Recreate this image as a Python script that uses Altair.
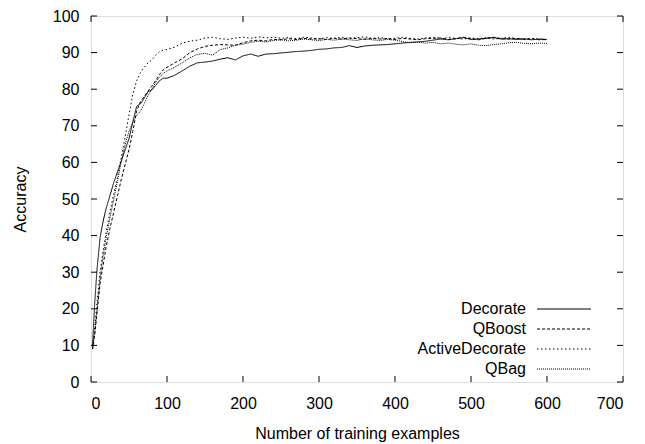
import altair as alt
import pandas as pd

# ---- data ----
series_names = ["Decorate", "QBoost", "ActiveDecorate", "QBag"]

x_vals = [2, 5, 8, 12, 16, 20, 25, 30, 35, 40, 45, 50, 55, 60, 65, 70, 75, 80, 85, 90, 95,
          100, 110, 120, 130, 140, 150, 160, 170, 180, 190, 200, 210, 220, 230, 240, 250,
          260, 270, 280, 290, 300, 310, 320, 330, 340, 350, 360, 370, 380, 390, 400, 410,
          420, 430, 440, 450, 460, 470, 480, 490, 500, 510, 520, 530, 540, 550, 560, 570,
          580, 590, 600]

decorate = [10, 22, 31, 39.5, 44, 47.5, 51, 54.5, 57.5, 60.5, 63.5, 66.5, 71, 75.3, 76, 77.5,
            79.3, 79.8, 81, 82.3, 83,
            83.0, 83.8, 85.0, 86.3, 87.2, 87.4, 87.7, 88.2, 88.6, 88.0, 89.1, 89.6, 89.0, 89.6,
            89.7, 89.9, 90.1, 90.3, 90.4, 90.6, 90.9, 91.0, 91.3, 91.4, 91.9, 91.4, 91.8, 92.0,
            92.1, 92.2, 92.4, 92.6, 92.8, 92.9, 93.1, 93.4, 93.7, 93.5, 93.8, 94.1, 93.6, 93.7,
            93.9, 94.1, 93.7, 93.8, 93.6, 93.8, 93.5, 93.7, 93.6]

qboost = [9, 13, 19, 27, 32, 37, 42, 46.5, 51, 55.5, 59.5, 63.5, 68.5, 74, 76.5, 78, 79.5,
          80.8, 82.3, 84, 85.3,
          86.0, 87.2, 88.3, 90.0, 91.0, 91.7, 92.0, 92.2, 92.1, 92.0, 92.7, 93.2, 93.4, 93.2,
          93.6, 93.5, 93.8, 93.6, 93.9, 93.7, 93.8, 93.6, 93.9, 93.7, 94.0, 93.8, 93.6, 93.9,
          93.7, 93.8, 93.6, 93.9, 93.7, 93.5, 93.8, 93.9, 94.0, 93.6, 93.8, 94.2, 93.8, 93.5,
          93.9, 94.2, 93.8, 93.7, 93.9, 93.6, 93.8, 93.5, 93.6]

active_decorate = [9, 15, 22, 30, 36, 41, 46.5, 51.5, 56, 61.5, 67, 73, 78.5, 82.3, 84.5, 86,
                   87.2, 88, 89.2, 90.2, 90.7,
                   90.8, 91.5, 92.6, 93.1, 93.4, 94.0, 94.2, 93.8, 93.6, 94.0, 94.2, 93.9, 94.3,
                   94.0, 94.2, 93.9, 94.1, 93.8, 94.2, 94.0, 93.7, 94.1, 93.9, 94.2, 93.8, 94.1,
                   94.3, 93.9, 94.1, 93.8, 93.9, 94.2, 93.9, 93.7, 94.0, 94.2, 93.8, 94.1, 93.9,
                   93.7, 94.0, 93.8, 94.1, 93.7, 93.9, 94.2, 93.8, 93.6, 93.9, 93.7, 93.5]

qbag = [9, 14, 20, 28.5, 34.5, 39.5, 45, 50, 55, 60.5, 65, 68.5, 71, 72.8, 74, 76, 78.3, 80,
        81.8, 83.3, 84.3,
        85.0, 86.0, 87.2, 88.6, 89.5, 89.8, 89.3, 90.8, 91.3, 92.0, 92.3, 92.8, 93.1, 92.9,
        93.3, 93.5, 93.2, 93.4, 93.7, 93.5, 93.3, 93.6, 93.4, 93.7, 93.5, 93.3, 93.8, 93.5,
        93.3, 93.6, 93.4, 93.0, 92.7, 92.9, 92.6, 92.8, 92.4, 92.6, 92.3, 92.1, 92.4, 92.0,
        91.9, 92.2, 92.4, 92.7, 92.8, 92.5, 92.4, 92.6, 92.5]

x_ticks = [0, 100, 200, 300, 400, 500, 600, 700]
y_ticks = [0, 10, 20, 30, 40, 50, 60, 70, 80, 90, 100]

# ---- tables ----
rows = []
for name, vals in zip(series_names, [decorate, qboost, active_decorate, qbag]):
    for xv, yv in zip(x_vals, vals):
        rows.append({"series": name, "x": xv, "y": yv})
df = pd.DataFrame(rows)
df_xt = pd.DataFrame({"t": x_ticks})
df_yt = pd.DataFrame({"t": y_ticks})
df_leg = pd.DataFrame({"series": series_names, "i": list(range(len(series_names)))})

FONT = "Liberation Sans"
W, H = 532, 366
TICK = 6

xscale = alt.Scale(domain=[0, 700], nice=False)
yscale = alt.Scale(domain=[0, 100], nice=False)
dash_scale = alt.Scale(domain=series_names,
                       range=[[1, 0], [3, 2], [1.5, 2.5], [1, 1]])

xaxis = alt.Axis(values=x_ticks, ticks=False, domain=False, grid=False, labelOverlap=False,
                 labelFont=FONT, labelFontSize=16, labelColor="black", labelPadding=13,
                 title="Number of training examples", titleFont=FONT, titleFontSize=16,
                 titleFontWeight="normal", titleColor="black", titlePadding=14)
yaxis = alt.Axis(values=y_ticks, ticks=False, domain=False, grid=False, labelOverlap=False,
                 labelFont=FONT, labelFontSize=16, labelColor="black", labelPadding=12,
                 title="Accuracy", titleFont=FONT, titleFontSize=16,
                 titleFontWeight="normal", titleColor="black", titlePadding=24)

lines = alt.Chart(df).mark_line(color="black", strokeWidth=1).encode(
    x=alt.X("x:Q", scale=xscale, axis=xaxis),
    y=alt.Y("y:Q", scale=yscale, axis=yaxis),
    strokeDash=alt.StrokeDash("series:N", scale=dash_scale, legend=None),
    detail="series:N",
)

tick_style = dict(color="black", strokeWidth=1)
xt_bottom = alt.Chart(df_xt).mark_rule(**tick_style).encode(
    x=alt.X("t:Q", scale=xscale, axis=xaxis), y=alt.value(H), y2=alt.value(H - TICK))
xt_top = alt.Chart(df_xt).mark_rule(**tick_style).encode(
    x=alt.X("t:Q", scale=xscale, axis=xaxis), y=alt.value(0), y2=alt.value(TICK))
yt_left = alt.Chart(df_yt).mark_rule(**tick_style).encode(
    y=alt.Y("t:Q", scale=yscale, axis=yaxis), x=alt.value(0), x2=alt.value(TICK))
yt_right = alt.Chart(df_yt).mark_rule(**tick_style).encode(
    y=alt.Y("t:Q", scale=yscale, axis=yaxis), x=alt.value(W), x2=alt.value(W - TICK))

leg_base = alt.Chart(df_leg).transform_calculate(ypx="293 + 20 * datum.i")
leg_text = leg_base.mark_text(align="right", baseline="middle", font=FONT,
                              fontSize=16, color="black").encode(
    x=alt.value(435), y=alt.Y("ypx:Q", scale=None), text="series:N")
leg_line = leg_base.mark_rule(color="black", strokeWidth=1).encode(
    x=alt.value(446), x2=alt.value(500), y=alt.Y("ypx:Q", scale=None),
    strokeDash=alt.StrokeDash("series:N", scale=dash_scale, legend=None))

chart = alt.layer(lines, xt_bottom, xt_top, yt_left, yt_right, leg_line, leg_text).properties(
    width=W, height=H,
    padding={"left": 83, "top": 8, "right": 14, "bottom": 62},
    autosize=alt.AutoSizeParams(type="none"),
).configure_view(stroke="black", strokeWidth=1).configure(background="white")

chart.save("out.html", embed_options={"renderer": "svg", "actions": False})
